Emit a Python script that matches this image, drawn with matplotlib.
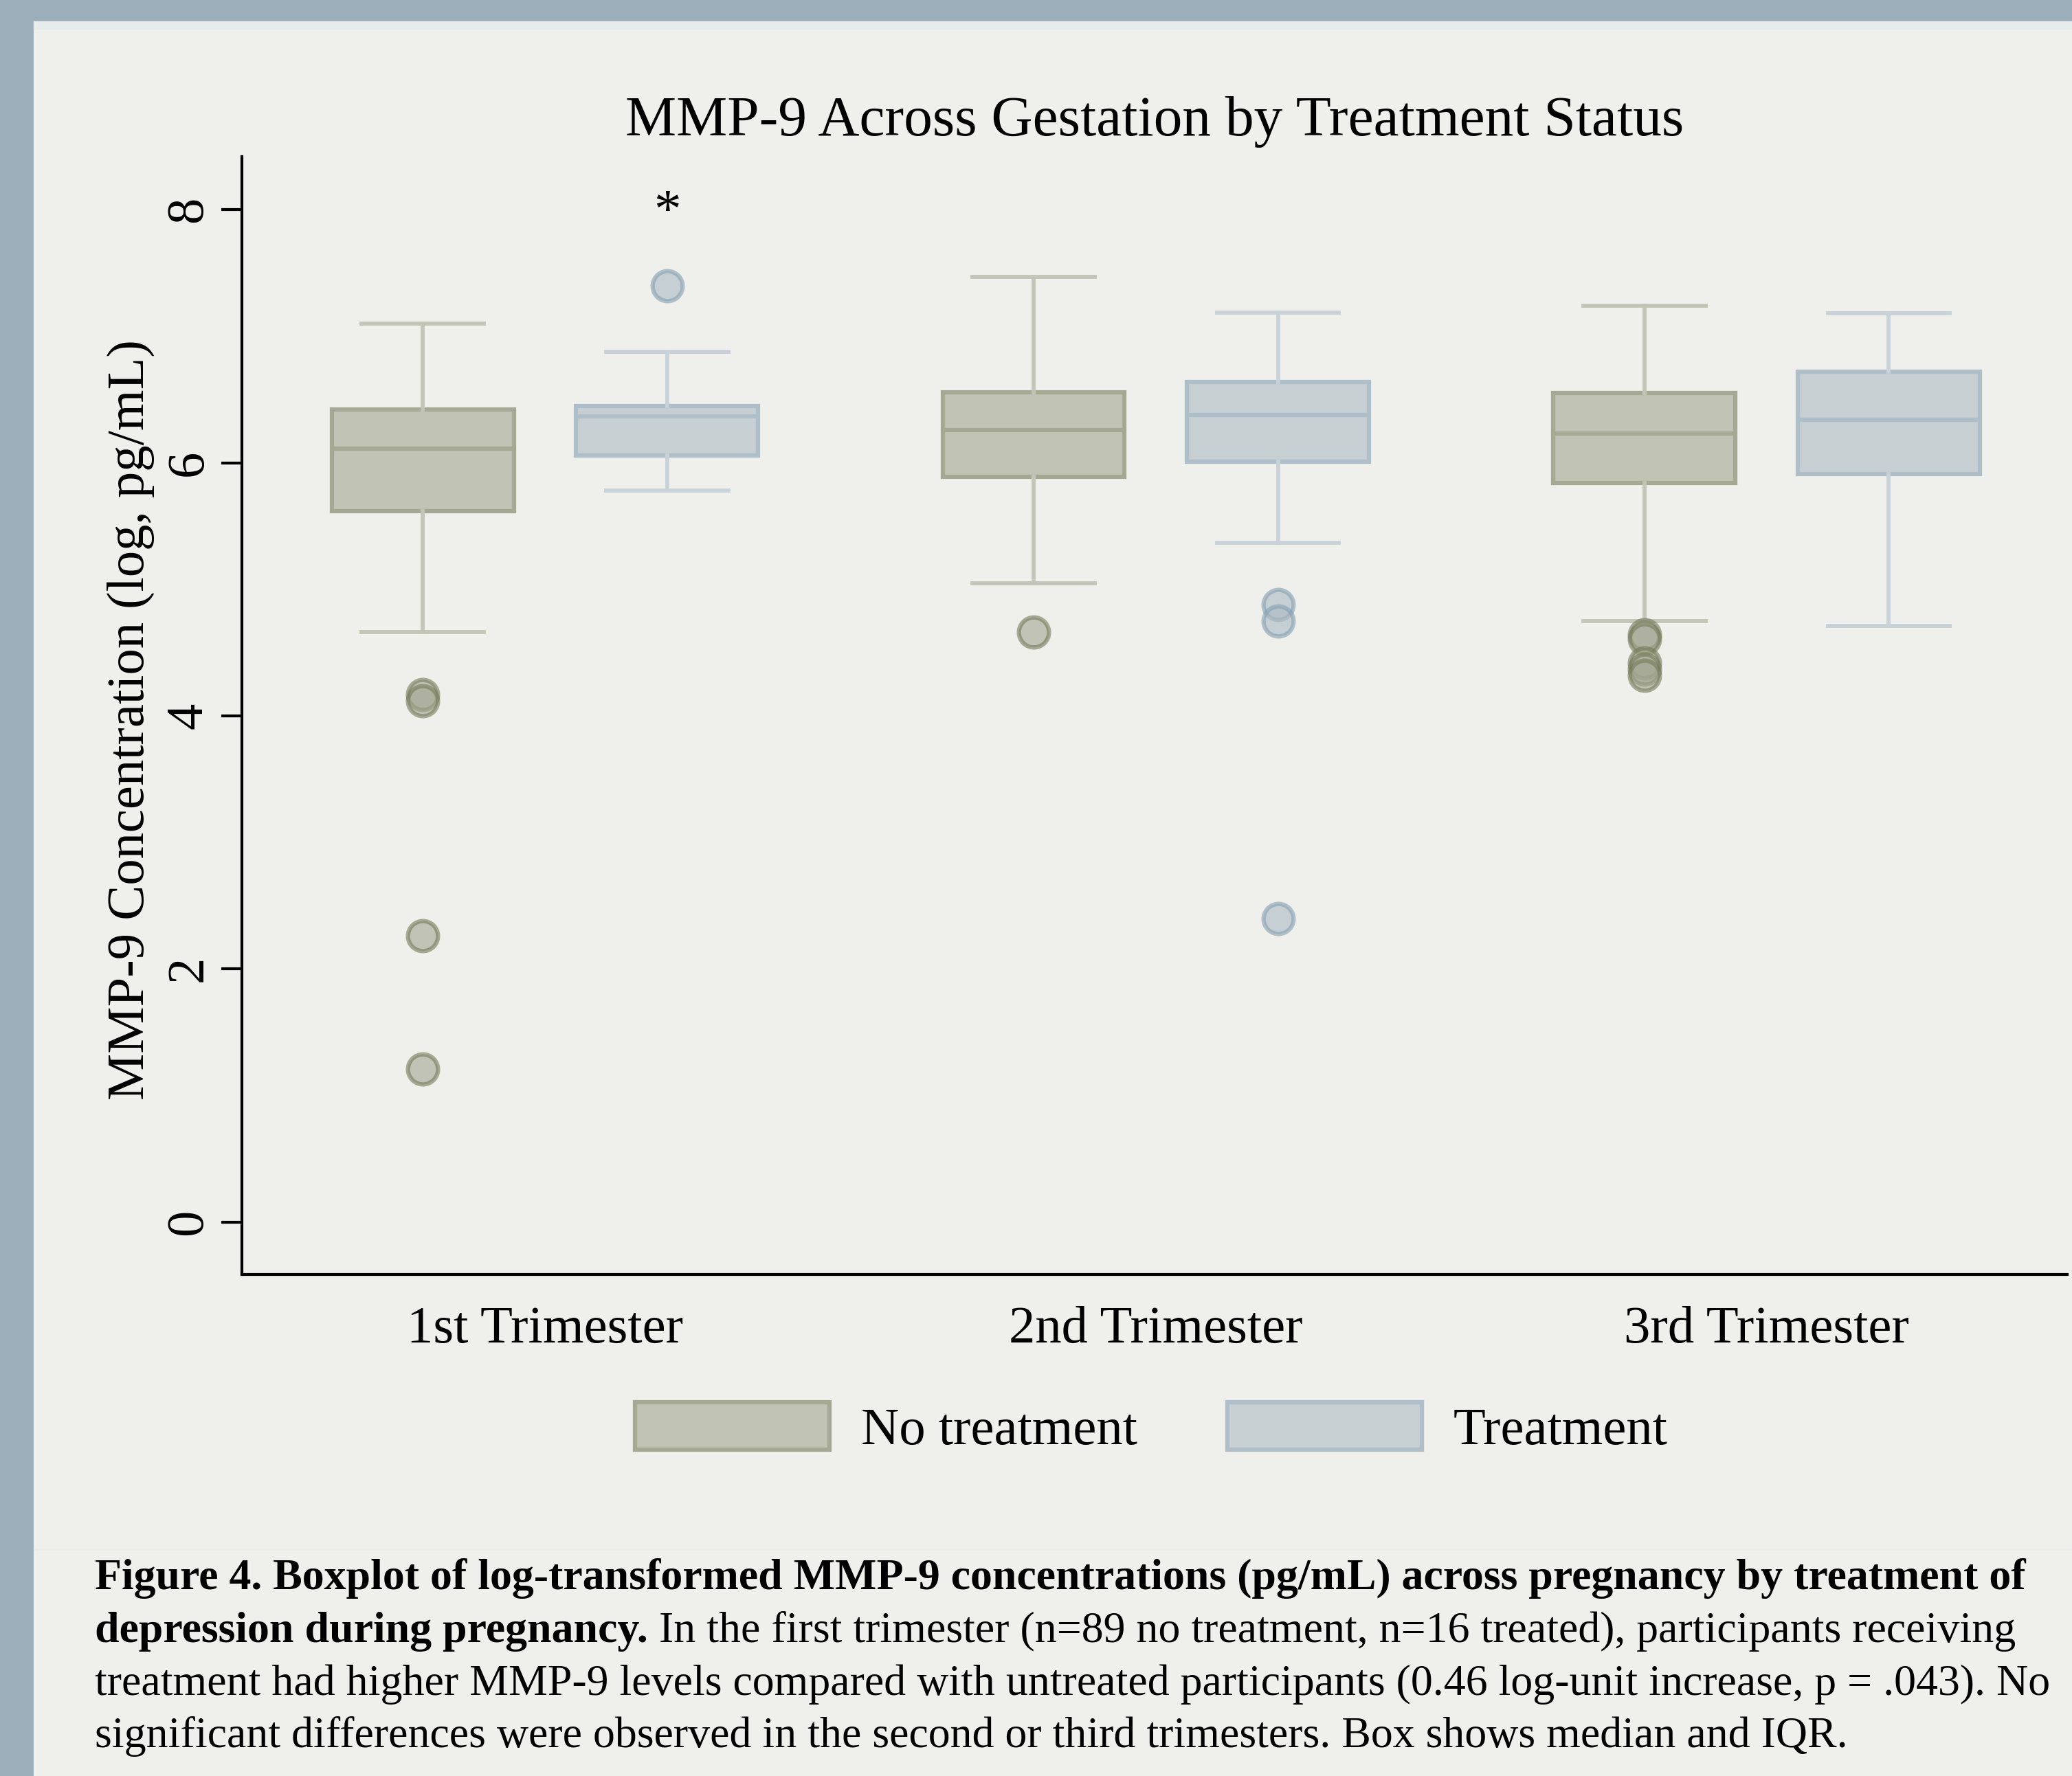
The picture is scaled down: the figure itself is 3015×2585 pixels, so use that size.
import matplotlib
matplotlib.use("Agg")
import matplotlib.pyplot as plt
from matplotlib.patches import Rectangle
from matplotlib.lines import Line2D

plt.rcParams['font.family'] = ['Liberation Serif', 'DejaVu Serif']

# --------------------------------------------------------
# Values (log pg/mL)

trimesters = ["1st Trimester", "2nd Trimester", "3rd Trimester"]
groups = ["No treatment", "Treatment"]

no_tx_whislo = [4.66, 5.05, 4.75]
no_tx_q1     = [5.62, 5.89, 5.84]
no_tx_med    = [6.11, 6.26, 6.23]
no_tx_q3     = [6.42, 6.56, 6.55]
no_tx_whishi = [7.10, 7.47, 7.24]
no_tx_fliers = [[4.17, 4.12, 2.26, 1.21], [4.66], [4.64, 4.61, 4.42, 4.37, 4.32]]

tx_whislo = [5.78, 5.37, 4.71]
tx_q1     = [6.06, 6.01, 5.91]
tx_med    = [6.37, 6.38, 6.34]
tx_q3     = [6.45, 6.64, 6.72]
tx_whishi = [6.88, 7.19, 7.18]
tx_fliers = [[7.40], [4.88, 4.75, 2.40], []]

sig_marks = ["*", "", ""]     # drawn over the treatment box
sig_height = 7.87             # baseline of the star

yticks = [0, 2, 4, 6, 8]

caption_l1 = ("Figure 4. Boxplot of log-transformed MMP-9 concentrations (pg/mL) "
              "across pregnancy by treatment of")
caption_l2_bold = "depression during pregnancy."
caption_l2 = "In the first trimester (n=89 no treatment, n=16 treated), participants receiving"
caption_l3 = ("treatment had higher MMP-9 levels compared with untreated participants "
              "(0.46 log-unit increase, p = .043). No")
caption_l4 = "significant differences were observed in the second or third trimesters. Box shows median and IQR."

# --------------------------------------------------------
# Styling

W, H = 3015, 2585
BORDER = '#9daebb'
PANEL = '#efefeb'

STYLE = {
    "No treatment": dict(fill='#c1c3b5', edge='#a5a893', whisk='#c3c5b8',
                         ffill='#a2a691', fedge='#747958'),
    "Treatment":    dict(fill='#c7cfd3', edge='#afbfc9', whisk='#c8d2d8',
                         ffill='#acbac3', fedge='#849fb2'),
}
GROUP_GAP = 2.5
FS = 18.4


def makeStats(whislo, q1, med, q3, whishi, fliers):
    return [dict(whislo=a, q1=b, med=c, q3=d, whishi=e, fliers=f)
            for a, b, c, d, e, f in zip(whislo, q1, med, q3, whishi, fliers)]


def drawGroup(ax, stats, positions, st):
    res = ax.bxp(stats, positions=positions, widths=0.745, capwidths=0.5,
                 patch_artist=True, showfliers=True,
                 boxprops=dict(facecolor=st['fill'], edgecolor=st['edge'], linewidth=1.5),
                 medianprops=dict(color=st['edge'], linewidth=1.5),
                 whiskerprops=dict(color=st['whisk'], linewidth=1.4),
                 capprops=dict(color=st['whisk'], linewidth=1.4),
                 flierprops=dict(marker='o', markersize=10.5, markeredgewidth=1.5,
                                 markerfacecolor=st['ffill'], markeredgecolor=st['fedge'],
                                 alpha=0.6, linestyle='none'))
    return res['boxes'][0]


def drawBackground(fig):
    fig.add_artist(Rectangle((51 / W, 0), 1 - 51 / W, 1 - 33 / H,
                             transform=fig.transFigure, color=PANEL, zorder=-10))
    # thin lighter strip along the top of the panel, and a faint rule above the caption
    fig.add_artist(Rectangle((51 / W, 1 - 41 / H), 1 - 51 / W, 8 / H,
                             transform=fig.transFigure, color='#e6ebeb', zorder=-9))
    fig.add_artist(Line2D([51 / W, 1], [1 - 2255 / H] * 2, transform=fig.transFigure,
                          color='#e8ecec', linewidth=0.6, zorder=-9))


def drawCaption(fig):
    x0 = 138 / W
    ys = [1 - 2313 / H, 1 - 2390 / H, 1 - 2467 / H, 1 - 2543 / H]
    cfs = 15.35
    fig.text(x0, ys[0], caption_l1, fontsize=cfs, fontweight='bold', va='baseline')
    t = fig.text(x0, ys[1], caption_l2_bold, fontsize=cfs, fontweight='bold', va='baseline')
    fig.add_artist(plt.Annotation(caption_l2, xy=(1, 0), xycoords=t, xytext=(3.8, 0),
                                  textcoords='offset points', fontsize=cfs, va='bottom'))
    fig.text(x0, ys[2], caption_l3, fontsize=cfs, va='baseline')
    fig.text(x0, ys[3], caption_l4, fontsize=cfs, va='baseline')


def main():
    fig = plt.figure(figsize=(W / 300, H / 300), dpi=300, facecolor=BORDER)
    drawBackground(fig)

    ax = fig.add_axes([352 / W, 1 - 1855 / H, (3008 - 352) / W, (1855 - 228) / H])
    ax.set_facecolor('none')

    centers = [i * GROUP_GAP + 0.5 for i in range(len(trimesters))]
    no_stats = makeStats(no_tx_whislo, no_tx_q1, no_tx_med, no_tx_q3, no_tx_whishi, no_tx_fliers)
    tx_stats = makeStats(tx_whislo, tx_q1, tx_med, tx_q3, tx_whishi, tx_fliers)

    h_no = drawGroup(ax, no_stats, [c - 0.5 for c in centers], STYLE["No treatment"])
    h_tx = drawGroup(ax, tx_stats, [c + 0.5 for c in centers], STYLE["Treatment"])

    for c, s in zip(centers, sig_marks):
        if s:
            ax.text(c + 0.5, sig_height, s, ha='center', va='baseline', fontsize=19)

    ax.set_xlim(-0.74, 6.73)
    ax.set_ylim(-0.415, 8.42)
    ax.set_xticks(centers)
    ax.set_xticklabels(trimesters, fontsize=FS)
    ax.set_yticks(yticks)
    ax.set_yticklabels([str(v) for v in yticks], fontsize=FS)
    ax.tick_params(axis='x', length=0, pad=11)
    ax.tick_params(axis='y', length=7.2, width=1, pad=3, labelrotation=90, direction='out')
    for lab in ax.get_yticklabels():
        lab.set_verticalalignment('center')

    for side in ('top', 'right'):
        ax.spines[side].set_visible(False)
    for side in ('left', 'bottom'):
        ax.spines[side].set_linewidth(1)

    ax.set_ylabel("MMP-9 Concentration (log, pg/mL)", fontsize=FS)
    ax.yaxis.label.set_verticalalignment('center')
    ax.yaxis.set_label_coords(-0.061, 0.496)

    ax.set_title("MMP-9 Across Gestation by Treatment Status", fontsize=20, pad=7.5)

    fig.legend([h_no, h_tx], groups, loc='center', bbox_to_anchor=(0.5557, 0.1955),
               bbox_transform=fig.transFigure, ncol=2, frameon=False, fontsize=FS,
               handlelength=3.69, handleheight=1.0, handletextpad=0.6,
               columnspacing=1.7, borderpad=0)

    drawCaption(fig)
    fig.savefig('out.png', dpi=300, facecolor=BORDER)


if __name__ == "__main__":
    main()
